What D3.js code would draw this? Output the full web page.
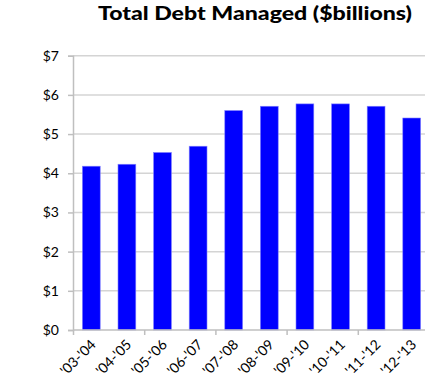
<!DOCTYPE html>
<html><head><meta charset="utf-8">
<script src="https://cdn.jsdelivr.net/npm/d3@7"></script>
<style>body{margin:0;background:#fff;}svg{display:block;}</style>
</head><body>
<script>
const categories = ["'03-'04","'04-'05","'05-'06","'06-'07","'07-'08","'08-'09","'09-'10","'10-'11","'11-'12","'12-'13"];
const values = [4.18, 4.23, 4.53, 4.69, 5.60, 5.71, 5.77, 5.77, 5.71, 5.41];
const yTicks = [0,1,2,3,4,5,6,7];
const title = "Total Debt Managed ($billions)";

const W = 425, H = 378;
const svg = d3.select("body").append("svg").attr("width", W).attr("height", H);
const font = "Lato, 'Open Sans', sans-serif";

const x = d3.scaleBand().domain(categories).range([73.5, 429.5]).paddingInner(0.5).paddingOuter(0.25);
const y = d3.scaleLinear().domain([0, 7]).range([330, 55.7]);

// gridlines
svg.append("g").selectAll("line").data(yTicks.filter(d => d > 0)).join("line")
  .attr("x1", 73).attr("x2", W).attr("y1", d => y(d)).attr("y2", d => y(d))
  .attr("stroke", "#d4d4d4").attr("stroke-width", 1.5);

// y axis
const yAxis = d3.axisLeft(y).tickValues(yTicks).tickFormat(d => "$" + d).tickSize(5).tickPadding(9);
const gy = svg.append("g").attr("transform", "translate(73,0)").call(yAxis);
gy.select(".domain").attr("stroke", "#bfbfbf").attr("stroke-width", 1.5);
gy.selectAll(".tick line").attr("stroke", "#bfbfbf").attr("stroke-width", 1.5);
gy.selectAll("text").attr("font-family", font).attr("font-size", 14).attr("fill", "#000");

// bars
svg.append("g").selectAll("rect").data(values).join("rect")
  .attr("x", (d, i) => x(categories[i]))
  .attr("width", x.bandwidth())
  .attr("y", d => y(d))
  .attr("height", d => y(0) - y(d))
  .attr("fill", "#0000ff")
  .attr("stroke", "#7f7fff").attr("stroke-width", 0.6);

// x axis line
svg.append("line").attr("x1", 73).attr("x2", W).attr("y1", y(0)).attr("y2", y(0))
  .attr("stroke", "#bfbfbf").attr("stroke-width", 1.5);
// x tick marks every 2 categories (at band boundaries)
const step = x.step();
const x0 = x.range()[0];
svg.append("g").selectAll("line").data(d3.range(0, categories.length + 1, 2)).join("line")
  .attr("x1", d => x0 + d * step).attr("x2", d => x0 + d * step)
  .attr("y1", y(0)).attr("y2", y(0) + 5)
  .attr("stroke", "#bfbfbf").attr("stroke-width", 1.5);

// x labels
svg.append("g").selectAll("text").data(categories).join("text")
  .attr("transform", d => `translate(${x(d) + x.bandwidth() / 2 + 2},${y(0) + 12}) rotate(-45)`)
  .attr("text-anchor", "end")
  .attr("dy", "0.35em")
  .attr("font-family", font).attr("font-size", 14).attr("fill", "#000")
  .text(d => d);

// title
svg.append("text").attr("x", 255).attr("y", 20).attr("text-anchor", "middle")
  .attr("font-family", font).attr("font-weight", 900).attr("font-size", 18)
  .attr("textLength", 314).attr("lengthAdjust", "spacingAndGlyphs").attr("fill", "#000")
  .text(title);
</script>
</body></html>
